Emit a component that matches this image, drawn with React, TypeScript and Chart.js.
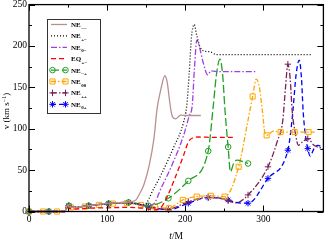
import React, { useEffect, useRef } from "react";
import { Chart, registerables } from "chart.js";
Chart.register(...registerables);

// ---- data (t/M, v in km/s) ----
const tNEmm = [0, 25.5, 46, 49, 51, 55, 76.5, 102, 120, 132, 137, 142, 147, 154, 160, 164, 168.5, 174, 177, 180, 182, 184, 188, 194, 205, 220];
const vNEmm = [0, 0, 0, 8, 7, 5, 7, 10, 11, 12, 14, 22, 32, 56, 88, 124, 146, 164, 156, 134, 121, 114, 112, 116.5, 116, 116];

const tNEpm = [0, 25.5, 46, 49, 51, 55, 76.5, 102, 127.5, 140, 147, 160, 171, 185, 198, 202, 205, 208, 211.5, 215, 219, 224, 232, 240, 363];
const vNEpm = [0, 0, 0, 8, 7, 5, 7, 9.5, 10.5, 9, 8, 28, 48, 77, 108, 128, 165, 210, 226, 212, 199, 194, 193, 189.5, 189.5];

const tNE0m = [0, 25.5, 46, 49, 51, 55, 76.5, 102, 127.5, 145, 158, 170, 183, 198, 205, 209, 212, 215, 219, 223, 229, 233, 240, 291];
const vNE0m = [0, 0, 0, 8, 7, 5, 7, 9.5, 10.5, 8, 8, 30, 56, 92, 115, 128, 175, 207, 196, 180, 165, 170, 169, 169];

const tEQpm = [0, 25.5, 46, 49, 51, 55, 76.5, 102, 127.5, 145, 160, 168, 175, 187.6, 198, 204, 210, 217, 238, 264];
const vEQpm = [0, 0, 0, 5, 4, 3, 4, 4.5, 5, 4, 2, 4, 14, 42, 68, 84, 89, 90, 89.5, 89.5];

const tNEmp = [0, 25.5, 46, 49, 51, 55, 76.5, 102, 127.5, 153, 178.5, 204, 229.5, 236, 240, 244.5, 248, 251, 255, 258, 262, 266, 280.5];
const vNEmp = [0, 0, 0, 8, 7, 5, 7, 9.5, 11, 7, 16, 37, 73, 128, 165, 184, 165, 122, 78, 48, 58, 62, 58];

const tNE00 = [0, 17.9, 35.8, 46, 49, 53.7, 71.6, 89.5, 107.4, 125.3, 143.2, 161.1, 179, 196.9, 214.8, 232.7, 250.6, 268.5, 280, 286.4, 291, 295, 299, 302, 304.3, 313, 322.2, 340.1, 358, 366];
const vNE00 = [0, 0, 0, 0, 7, 5, 6, 8, 9.5, 10, 8, 6, 4, 14, 18, 19, 18, 54, 108, 139, 160, 150, 120, 95, 92, 97, 96, 96, 96, 96];

const tNEpp = [0, 25.5, 46, 49, 51, 55, 76.5, 102, 127.5, 153, 178.5, 204, 229.5, 245, 255, 265, 280.5, 306, 318, 325, 328.5, 331.5, 334.5, 337, 341, 345, 350, 357, 365, 377];
const vNEpp = [0, 0, 0, 8, 7, 5, 7, 9.5, 10.5, 5, 3, 12, 17, 16, 13, 10.5, 20, 54, 85, 110, 150, 178, 160, 122, 95, 80, 84, 88, 80, 76];

const tNE0p = [0, 25.5, 46, 49, 51, 55, 76.5, 102, 127.5, 153, 178.5, 204, 229.5, 245, 255, 265, 280.5, 306, 331.5, 335, 338, 342, 346, 349, 351, 354, 357, 360, 365, 370, 377];
const vNE0p = [0, 0, 0, 8, 7, 5, 7, 10, 11, 6, 2, 10, 17, 16, 14, 11, 10, 40, 74, 95, 122, 165, 183, 160, 122, 92, 76, 67, 76, 80, 76];

const legendNames = ["NE", "NE", "NE", "EQ", "NE", "NE", "NE", "NE"];
const legendSubs = ["\u2212\u2212", "+\u2212", "0\u2212", "+\u2212", "\u2212+", "00", "++", "0+"];

const xMajor = [0, 100, 200, 300];
const xMinor = [50, 150, 250, 350];
const yMajor = [0, 50, 100, 150, 200, 250];
const yMinor = [25, 75, 125, 175, 225];
const X_MAX = 377;
const Y_MAX = 250;

type Marker = null | "circle" | "rect" | "cross" | "star";
const seriesDefs: { t: number[]; v: number[]; color: string; dash: number[]; marker: Marker; every: number }[] = [
  { t: tNEmm, v: vNEmm, color: "#bc8f8f", dash: [], marker: null, every: 0 },
  { t: tNEpm, v: vNEpm, color: "#000000", dash: [1, 2], marker: null, every: 0 },
  { t: tNE0m, v: vNE0m, color: "#a040e0", dash: [6, 2, 1.5, 2], marker: null, every: 0 },
  { t: tEQpm, v: vEQpm, color: "#ff0000", dash: [5, 3], marker: null, every: 0 },
  { t: tNEmp, v: vNEmp, color: "#22a022", dash: [8, 3], marker: "circle", every: 25.5 },
  { t: tNE00, v: vNE00, color: "#ffa500", dash: [5, 2, 1.5, 2], marker: "rect", every: 17.9 },
  { t: tNEpp, v: vNEpp, color: "#7a1f5c", dash: [6, 2, 1.5, 2], marker: "cross", every: 25.5 },
  { t: tNE0p, v: vNE0p, color: "#0000ff", dash: [5, 3], marker: "star", every: 25.5 },
];

const isMark = (x: number, every: number) => {
  if (!every) return false;
  const q = x / every;
  return Math.abs(q - Math.round(q)) < 1e-6;
};

function drawMarker(ctx: CanvasRenderingContext2D, m: Marker, x: number, y: number, r: number) {
  if (!m) return;
  ctx.beginPath();
  if (m === "circle") ctx.arc(x, y, r, 0, Math.PI * 2);
  else if (m === "rect") {
    const s = r * Math.SQRT1_2;
    ctx.rect(x - s, y - s, 2 * s, 2 * s);
  } else if (m === "cross") {
    ctx.moveTo(x - r, y); ctx.lineTo(x + r, y);
    ctx.moveTo(x, y - r); ctx.lineTo(x, y + r);
  } else if (m === "star") {
    ctx.moveTo(x - r, y); ctx.lineTo(x + r, y);
    ctx.moveTo(x, y - r); ctx.lineTo(x, y + r);
    const d = r * Math.SQRT1_2;
    ctx.moveTo(x - d, y - d); ctx.lineTo(x + d, y + d);
    ctx.moveTo(x - d, y + d); ctx.lineTo(x + d, y - d);
  }
  ctx.stroke();
}

const markerRadius: Record<string, number> = { circle: 2.8, rect: 3.6, cross: 3.2, star: 3.2 };

const decor = {
  id: "decor",
  afterDraw(chart: any) {
    const { ctx, chartArea: a } = chart;
    const xs = chart.scales.x, ys = chart.scales.y;
    ctx.save();
    ctx.setLineDash([]);
    ctx.strokeStyle = "#000";
    ctx.lineWidth = 1;
    ctx.beginPath();
    const xt = (vals: number[], len: number) => vals.forEach((v) => {
      const p = Math.round(xs.getPixelForValue(v)) + 0.5;
      ctx.moveTo(p, a.bottom); ctx.lineTo(p, a.bottom - len);
      ctx.moveTo(p, a.top); ctx.lineTo(p, a.top + len);
    });
    const yt = (vals: number[], len: number) => vals.forEach((v) => {
      const p = Math.round(ys.getPixelForValue(v)) + 0.5;
      ctx.moveTo(a.left, p); ctx.lineTo(a.left + len, p);
      ctx.moveTo(a.right, p); ctx.lineTo(a.right - len, p);
    });
    xt(xMajor, 6); xt(xMinor, 3); yt(yMajor, 6); yt(yMinor, 3);
    ctx.stroke();
    ctx.lineWidth = 1.3;
    ctx.strokeRect(a.left, a.top, a.right - a.left, a.bottom - a.top);

    // axis titles
    ctx.fillStyle = "#000";
    ctx.textBaseline = "alphabetic";
    const cx = (a.left + a.right) / 2;
    ctx.font = 'italic 9.5px "Liberation Serif"';
    const wT = ctx.measureText("t").width;
    ctx.font = '9.5px "Liberation Serif"';
    const wR = ctx.measureText("/M").width;
    const x0 = cx - (wT + wR) / 2;
    ctx.textAlign = "left";
    ctx.font = 'italic 9.5px "Liberation Serif"';
    ctx.fillText("t", x0, 239);
    ctx.font = '9.5px "Liberation Serif"';
    ctx.fillText("/M", x0 + wT, 239);

    ctx.save();
    ctx.translate(9, 111);
    ctx.rotate(-Math.PI / 2);
    ctx.font = '9px "Liberation Serif"';
    const p1 = "v (km s";
    const sup = "\u22121";
    const p3 = ")";
    const w1 = ctx.measureText(p1).width;
    ctx.font = '6px "Liberation Serif"';
    const w2 = ctx.measureText(sup).width;
    ctx.font = '9px "Liberation Serif"';
    const w3 = ctx.measureText(p3).width;
    let sx = -(w1 + w2 + w3) / 2;
    ctx.fillText(p1, sx, 0); sx += w1;
    ctx.font = '6px "Liberation Serif"';
    ctx.fillText(sup, sx, -3.5); sx += w2;
    ctx.font = '9px "Liberation Serif"';
    ctx.fillText(p3, sx, 0);
    ctx.restore();

    // legend
    const L = 47, T = 19, W = 53, H = 94;
    ctx.fillStyle = "#fff";
    ctx.fillRect(L, T, W, H);
    ctx.strokeStyle = "#333";
    ctx.lineWidth = 1;
    ctx.strokeRect(L + 0.5, T + 0.5, W, H);
    seriesDefs.forEach((s, i) => {
      const y = 24.5 + i * 11.4;
      ctx.strokeStyle = s.color;
      ctx.lineWidth = 1.3;
      ctx.setLineDash(s.dash);
      ctx.beginPath();
      ctx.moveTo(51, y); ctx.lineTo(67, y);
      ctx.stroke();
      ctx.setLineDash([]);
      ctx.lineWidth = 1;
      if (s.marker) {
        drawMarker(ctx, s.marker, 52.5, y, markerRadius[s.marker]);
        drawMarker(ctx, s.marker, 65.5, y, markerRadius[s.marker]);
      }
      ctx.fillStyle = "#000";
      ctx.font = 'bold 7px "Liberation Serif"';
      ctx.fillText(legendNames[i], 71, y + 2.5);
      const wn = ctx.measureText(legendNames[i]).width;
      ctx.font = 'bold 5px "Liberation Serif"';
      ctx.fillText(legendSubs[i], 71 + wn + 0.5, y + 5);
    });
    ctx.restore();
  },
};

export default function App() {
  const ref = useRef<HTMLCanvasElement>(null);
  useEffect(() => {
    if (!ref.current) return;
    Chart.defaults.font.family = '"Liberation Serif"';
    Chart.defaults.color = "#000";
    const datasets = seriesDefs.map((s) => ({
      data: s.t.map((t, i) => ({ x: t, y: s.v[i] })),
      borderColor: s.color,
      borderWidth: 1.3,
      borderDash: s.dash,
      cubicInterpolationMode: "monotone" as const,
      pointStyle: s.marker || "circle",
      pointRadius: (c: any) => (s.marker && c.raw && isMark(c.raw.x, s.every) ? markerRadius[s.marker] : 0),
      pointBorderColor: s.color,
      pointBackgroundColor: "rgba(0,0,0,0)",
      pointBorderWidth: 1,
      pointHoverRadius: 0,
      clip: false as any,
      fill: false,
    }));
    const chart = new Chart(ref.current, {
      type: "line",
      data: { datasets },
      options: {
        animation: false,
        responsive: false,
        maintainAspectRatio: false,
        devicePixelRatio: 1,
        events: [],
        layout: { padding: { top: 3, right: 2, left: 0, bottom: 0 } },
        plugins: { legend: { display: false }, tooltip: { enabled: false } },
        scales: {
          x: {
            type: "linear",
            min: 0,
            max: X_MAX,
            grid: { display: false, drawTicks: false },
            border: { display: false },
            ticks: { stepSize: 100, includeBounds: false, padding: 2, font: { size: 9.5 }, maxRotation: 0 },
            afterFit: (sc: any) => { sc.height = 28.5; sc.paddingLeft = 0; sc.paddingRight = 0; },
          },
          y: {
            type: "linear",
            min: 0,
            max: Y_MAX,
            grid: { display: false, drawTicks: false },
            border: { display: false },
            ticks: { stepSize: 50, padding: 2, font: { size: 9.5 } },
            afterFit: (sc: any) => { sc.width = 29; sc.paddingTop = 0; sc.paddingBottom = 0; },
          },
        },
      },
      plugins: [decor],
    });
    return () => chart.destroy();
  }, []);
  return (
    <div style={{ position: "fixed", left: 0, top: 0, width: 328, height: 240, background: "#fff" }}>
      <canvas ref={ref} width={328} height={240} />
    </div>
  );
}
